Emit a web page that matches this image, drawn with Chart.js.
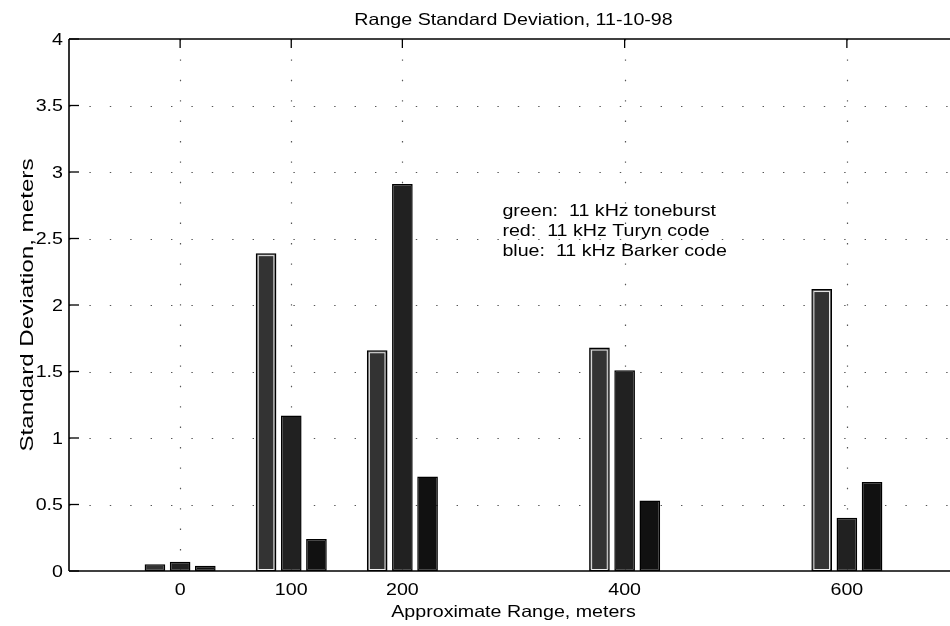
<!DOCTYPE html>
<html>
<head>
<meta charset="utf-8">
<script src="https://cdn.jsdelivr.net/npm/chart.js@4.4.1/dist/chart.umd.min.js"></script>
<style>
  html, body { margin: 0; padding: 0; background: #fff; overflow: hidden; }
  canvas { display: block; }
</style>
</head>
<body>
<canvas id="c" width="960" height="626"></canvas>
<script>
// Range groups (meters) and their tick labels
const ranges = [0, 100, 200, 400, 600];
const rangeLabels = ['0', '100', '200', '400', '600'];

// Standard deviation of range, meters, one series per transmit code
const toneburst = [0.05, 2.39, 1.66, 1.68, 2.12];
const turyn     = [0.07, 1.17, 2.91, 1.51, 0.40];
const barker    = [0.04, 0.24, 0.71, 0.53, 0.67];

const yTicks = [0, 0.5, 1, 1.5, 2, 2.5, 3, 3.5, 4];
const yTickLabels = ['0', '0.5', '1', '1.5', '2', '2.5', '3', '3.5', '4'];

const chartTitle = 'Range Standard Deviation, 11-10-98';
const xTitle = 'Approximate Range, meters';
const yTitle = 'Standard Deviation, meters';
const noteLines = ['green:  11 kHz toneburst', 'red:  11 kHz Turyn code', 'blue:  11 kHz Barker code'];
const noteAt = { x: 290, y: 2.70 };

const FONT = "'Liberation Sans', Arial, Helvetica, sans-serif";
const FS = 16.5;     // printed Helvetica size
const WIDE = 1.19;   // the printed lettering runs wide

const pts = vals => ranges.map((r, i) => ({ x: r, y: vals[i] }));

function seg(ctx, x1, y1, x2, y2) {
  ctx.beginPath(); ctx.moveTo(x1, y1); ctx.lineTo(x2, y2); ctx.stroke();
}

// text drawn with a horizontal stretch along its own direction
function wideText(ctx, text, x, y, align, baseline, stretch, angle = 0, size = FS) {
  ctx.save();
  ctx.translate(x, y);
  if (angle) ctx.rotate(angle);
  ctx.scale(stretch, 1);
  ctx.font = `${size}px ${FONT}`;
  ctx.fillStyle = '#000';
  ctx.textAlign = align;
  ctx.textBaseline = baseline;
  ctx.fillText(text, 0, 0);
  ctx.restore();
}

const axesDecor = {
  id: 'axesDecor',
  beforeDatasetsDraw(chart) {
    const { ctx, chartArea: a, scales: { x, y } } = chart;
    ctx.save();
    ctx.strokeStyle = '#555';
    ctx.lineWidth = 1.2;
    ctx.setLineDash([1.4, 19]);
    yTicks.slice(1, -1).forEach(v => {
      const py = Math.round(y.getPixelForValue(v)) + 0.5;
      seg(ctx, a.left, py, a.right, py);
    });
    ranges.forEach(v => {
      const px = Math.round(x.getPixelForValue(v)) + 0.5;
      seg(ctx, px, a.top, px, a.bottom);
    });
    ctx.restore();
  },
  afterDatasetsDraw(chart) {
    const { ctx, chartArea: a, scales: { x, y } } = chart;
    ctx.save();
    // light inner edge on the toneburst bars
    ctx.strokeStyle = 'rgba(255,255,255,0.9)';
    ctx.lineWidth = 1;
    chart.getDatasetMeta(0).data.forEach(b => {
      const h = b.base - b.y;
      if (h < 8) return;
      ctx.strokeRect(b.x - b.width / 2 + 2.5, b.y + 2.5, b.width - 5, h - 4);
    });
    // axes box
    ctx.strokeStyle = '#000';
    ctx.lineWidth = 1.6;
    seg(ctx, a.left, a.top, a.right + 5, a.top);
    seg(ctx, a.left, a.top, a.left, a.bottom);
    seg(ctx, a.left, a.bottom, a.right + 5, a.bottom);
    // inward tick marks
    ctx.lineWidth = 1.3;
    yTicks.forEach(v => {
      const py = y.getPixelForValue(v);
      seg(ctx, a.left, py, a.left + 10, py);
    });
    ranges.forEach(v => {
      const px = x.getPixelForValue(v);
      seg(ctx, px, a.top, px, a.top + 9);
    });
    ctx.restore();
    // note text
    const nx = x.getPixelForValue(noteAt.x), ny = y.getPixelForValue(noteAt.y);
    noteLines.forEach((t, i) => wideText(ctx, t, nx, ny + i * 20, 'left', 'middle', WIDE));
  },
  afterDraw(chart) {
    const { ctx, chartArea: a, scales: { x, y } } = chart;
    const cx = (a.left + a.right) / 2;
    // tick labels
    yTicks.forEach((v, i) => wideText(ctx, yTickLabels[i], a.left - 6, y.getPixelForValue(v) + 1, 'right', 'middle', WIDE));
    ranges.forEach((v, i) => wideText(ctx, rangeLabels[i], x.getPixelForValue(v), a.bottom + 24, 'center', 'alphabetic', WIDE));
    // titles
    wideText(ctx, chartTitle, cx, 25, 'center', 'alphabetic', WIDE);
    wideText(ctx, xTitle, cx, 617, 'center', 'alphabetic', WIDE);
    wideText(ctx, yTitle, 33, (a.top + a.bottom) / 2, 'center', 'alphabetic', 1.36, -Math.PI / 2, 17.8);
  }
};

const barStyle = (fill) => ({
  backgroundColor: fill,
  borderColor: '#000',
  borderWidth: 1.5,
  borderSkipped: false,
  categoryPercentage: 0.68,
  barPercentage: 0.82
});

new Chart(document.getElementById('c'), {
  type: 'bar',
  data: {
    datasets: [
      { label: 'green: 11 kHz toneburst', data: pts(toneburst), ...barStyle('#333333') },
      { label: 'red: 11 kHz Turyn code', data: pts(turyn), ...barStyle('#212121') },
      { label: 'blue: 11 kHz Barker code', data: pts(barker), ...barStyle('#111111') }
    ]
  },
  options: {
    responsive: false,
    animation: false,
    devicePixelRatio: 1,
    layout: { padding: { left: 0, top: 39, right: 2, bottom: 0 } },
    plugins: { legend: { display: false }, title: { display: false }, tooltip: { enabled: false } },
    scales: {
      x: {
        type: 'linear',
        min: -100,
        max: 700,
        offset: false,
        grid: { display: false, drawTicks: false },
        border: { display: false },
        afterBuildTicks: s => { s.ticks = ranges.map(v => ({ value: v })); },
        afterFit: s => { s.height = 55; },
        ticks: { display: false }
      },
      y: {
        min: 0,
        max: 4,
        grid: { display: false, drawTicks: false },
        border: { display: false },
        afterBuildTicks: s => { s.ticks = yTicks.map(v => ({ value: v })); },
        afterFit: s => { s.width = 69; },
        ticks: { display: false }
      }
    }
  },
  plugins: [axesDecor]
});
</script>
</body>
</html>
